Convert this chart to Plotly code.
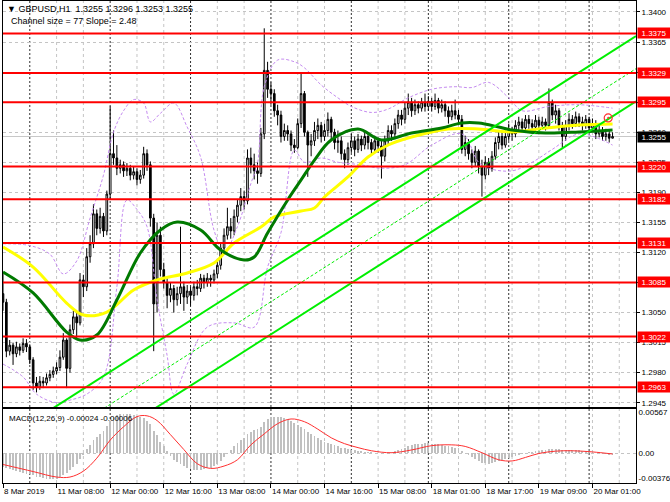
import plotly.graph_objects as go

# ---------------- data ----------------
bars = list(range(183))
first_open = 1.3072
close = [1.3062,1.3005,1.3012,1.3002,1.3010,1.3006,1.3014,1.3010,1.2995,1.2968,
         1.2963,1.2970,1.2968,1.2974,1.2978,1.2982,1.2986,1.2998,1.3018,1.2985,
         1.3030,1.3045,1.3038,1.3088,1.3080,1.3115,1.3130,1.3165,1.3148,1.3162,
         1.3145,1.3188,1.3235,1.3230,1.3218,1.3222,1.3215,1.3218,1.3210,1.3214,
         1.3205,1.3210,1.3235,1.3222,1.3160,1.3060,1.3140,1.3100,1.3085,1.3070,
         1.3078,1.3065,1.3072,1.3080,1.3068,1.3075,1.3070,1.3080,1.3078,1.3090,
         1.3085,1.3090,1.3088,1.3095,1.3105,1.3125,1.3140,1.3150,1.3145,1.3162,
         1.3175,1.3185,1.3180,1.3230,1.3222,1.3215,1.3212,1.3258,1.3332,1.3310,
         1.3305,1.3285,1.3280,1.3255,1.3262,1.3258,1.3245,1.3242,1.3270,1.3305,
         1.3260,1.3245,1.3250,1.3262,1.3268,1.3255,1.3262,1.3275,1.3260,1.3248,
         1.3250,1.3235,1.3228,1.3242,1.3250,1.3240,1.3252,1.3245,1.3255,1.3248,
         1.3240,1.3250,1.3244,1.3232,1.3250,1.3262,1.3258,1.3270,1.3280,1.3275,
         1.3288,1.3295,1.3285,1.3292,1.3288,1.3295,1.3290,1.3296,1.3290,1.3297,
         1.3288,1.3292,1.3285,1.3278,1.3285,1.3280,1.3275,1.3240,1.3248,1.3235,
         1.3225,1.3238,1.3220,1.3210,1.3225,1.3218,1.3232,1.3248,1.3255,1.3245,
         1.3255,1.3262,1.3258,1.3268,1.3272,1.3265,1.3275,1.3270,1.3266,1.3274,
         1.3268,1.3272,1.3268,1.3295,1.3280,1.3285,1.3268,1.3255,1.3268,1.3275,
         1.3270,1.3278,1.3272,1.3268,1.3275,1.3265,1.3270,1.3258,1.3262,1.3255,
         1.3258,1.3253,1.3255]
high = [1.3095,1.3066,1.3018,1.3015,1.3016,1.3014,1.3020,1.3019,1.3013,1.2998,
        1.2975,1.2976,1.2975,1.2979,1.2983,1.2987,1.2992,1.3006,1.3026,1.3020,
        1.3036,1.3052,1.3050,1.3096,1.3094,1.3125,1.3140,1.3176,1.3170,1.3172,
        1.3166,1.3192,1.3290,1.3262,1.3245,1.3228,1.3226,1.3224,1.3222,1.3220,
        1.3218,1.3216,1.3243,1.3240,1.3226,1.3165,1.3155,1.3150,1.3108,1.3090,
        1.3085,1.3082,1.3080,1.3150,1.3086,1.3082,1.3080,1.3086,1.3088,1.3095,
        1.3094,1.3096,1.3094,1.3100,1.3112,1.3130,1.3148,1.3172,1.3160,1.3170,
        1.3182,1.3195,1.3192,1.3240,1.3242,1.3235,1.3225,1.3265,1.3381,1.3342,
        1.3318,1.3310,1.3292,1.3285,1.3270,1.3268,1.3262,1.3252,1.3276,1.3330,
        1.3308,1.3262,1.3258,1.3272,1.3276,1.3272,1.3270,1.3283,1.3278,1.3264,
        1.3262,1.3255,1.3240,1.3248,1.3258,1.3255,1.3258,1.3256,1.3260,1.3258,
        1.3252,1.3256,1.3254,1.3250,1.3256,1.3268,1.3268,1.3276,1.3286,1.3286,
        1.3294,1.3305,1.3300,1.3298,1.3296,1.3300,1.3305,1.3302,1.3300,1.3305,
        1.3300,1.3298,1.3296,1.3290,1.3292,1.3298,1.3286,1.3280,1.3256,1.3252,
        1.3240,1.3244,1.3240,1.3228,1.3232,1.3230,1.3238,1.3254,1.3262,1.3260,
        1.3262,1.3270,1.3266,1.3274,1.3278,1.3276,1.3280,1.3280,1.3275,1.3280,
        1.3278,1.3278,1.3276,1.3311,1.3298,1.3292,1.3288,1.3272,1.3274,1.3282,
        1.3280,1.3284,1.3282,1.3278,1.3280,1.3278,1.3276,1.3274,1.3268,1.3266,
        1.3264,1.3262,1.3260]
low = [1.3052,1.2998,1.3000,1.2989,1.2998,1.3000,1.3003,1.3004,1.2990,1.2960,
       1.2957,1.2960,1.2962,1.2965,1.2970,1.2974,1.2978,1.2982,1.2995,1.2962,
       1.2980,1.3025,1.3020,1.3035,1.3068,1.3075,1.3108,1.3125,1.3140,1.3142,
       1.3138,1.3140,1.3182,1.3222,1.3210,1.3212,1.3208,1.3209,1.3204,1.3205,
       1.3198,1.3200,1.3206,1.3215,1.3150,1.3005,1.3050,1.3092,1.3078,1.3055,
       1.3062,1.3050,1.3058,1.3060,1.3052,1.3060,1.3058,1.3064,1.3070,1.3074,
       1.3078,1.3080,1.3080,1.3084,1.3090,1.3100,1.3118,1.3135,1.3136,1.3140,
       1.3155,1.3168,1.3170,1.3176,1.3212,1.3205,1.3200,1.3208,1.3252,1.3300,
       1.3292,1.3278,1.3268,1.3248,1.3250,1.3250,1.3238,1.3236,1.3240,1.3265,
       1.3255,1.3208,1.3232,1.3244,1.3252,1.3248,1.3250,1.3255,1.3252,1.3240,
       1.3236,1.3228,1.3218,1.3222,1.3236,1.3232,1.3236,1.3238,1.3240,1.3240,
       1.3234,1.3236,1.3236,1.3206,1.3226,1.3245,1.3250,1.3252,1.3264,1.3268,
       1.3270,1.3280,1.3278,1.3280,1.3282,1.3284,1.3284,1.3285,1.3284,1.3286,
       1.3282,1.3283,1.3278,1.3270,1.3274,1.3275,1.3268,1.3235,1.3232,1.3228,
       1.3218,1.3220,1.3212,1.3185,1.3205,1.3210,1.3214,1.3228,1.3240,1.3240,
       1.3242,1.3250,1.3250,1.3254,1.3262,1.3260,1.3262,1.3264,1.3260,1.3262,
       1.3262,1.3264,1.3262,1.3265,1.3274,1.3270,1.3262,1.3242,1.3250,1.3262,
       1.3264,1.3266,1.3266,1.3262,1.3264,1.3260,1.3262,1.3252,1.3254,1.3250,
       1.3250,1.3248,1.3253]
open_ = [first_open] + close[:-1]

# moving averages (read at sample bars)
ma_yellow_x = [0,9,19,24,31,39,46,55,63,69,77,81,89,93,96,103,109,115,122,133,142,152,162,172,182]
ma_yellow_y = [1.31263,1.31030,1.30611,1.30471,1.30506,1.30763,1.30879,1.30961,1.31077,1.31310,
               1.31496,1.31613,1.31683,1.31718,1.31846,1.32079,1.32311,1.32451,1.32544,1.32637,
               1.32637,1.32603,1.32649,1.32684,1.32696]
ma_green_x = [0,9,19,23,28,34,41,47,52,59,65,72,75,79,85,89,93,98,106,113,122,131,137,142,148,152,162,172,182]
ma_green_y = [1.30972,1.30728,1.30273,1.30180,1.30238,1.30646,1.31193,1.31461,1.31554,1.31461,
              1.31228,1.31112,1.31147,1.31426,1.31811,1.32044,1.32276,1.32509,1.32637,1.32509,
              1.32591,1.32649,1.32707,1.32707,1.32661,1.32626,1.32591,1.32603,1.32626]

# envelope bands
band_up_x = [0,8,14,18,22,26,30,33,36,39,42,44,47,51,55,59,63,66,70,74,76,78,82,87,90,95,100,104,110,115,121,128,135,140,145,151,155,163,172,182]
band_up_y = [1.3130,1.3128,1.3118,1.3095,1.3110,1.3160,1.3210,1.3260,1.3285,1.3298,1.3294,1.3272,
             1.3282,1.3294,1.3266,1.3231,1.3146,1.3120,1.3150,1.3200,1.3224,1.3313,1.3344,1.3342,
             1.3335,1.3315,1.3300,1.3290,1.3283,1.3287,1.3300,1.3310,1.3313,1.3312,1.3318,1.3300,
             1.3285,1.3290,1.3292,1.3288]
band_lo_x = [0,6,10,16,20,25,30,34,37,40,43,46,49,51,55,61,69,75,79,83,87,90,95,100,107,113,120,128,137,142,145,152,158,164,172,182]
band_lo_y = [1.2990,1.2975,1.2955,1.2945,1.2948,1.2955,1.2975,1.3080,1.3181,1.3170,1.3150,1.3065,
             1.3000,1.2955,1.2990,1.3033,1.3038,1.3033,1.3103,1.3143,1.3239,1.3225,1.3230,1.3225,
             1.3222,1.3218,1.3222,1.3245,1.3258,1.3225,1.3218,1.3215,1.3225,1.3240,1.3258,1.3245]

# regression channel (Channel size = 77, Slope = 2.48)
chan_x = [0, 189]
chan_upper = [1.29014, 1.33720]
chan_mid = [1.28634, 1.33340]
chan_lower = [1.28254, 1.32960]

# horizontal levels
levels = [1.3375, 1.3329, 1.3295, 1.3220, 1.3182, 1.3131, 1.3085, 1.3022, 1.2963]
last_price = 1.3255
alert_x = [180.7]
alert_y = [1.32766]

# MACD (units of 1e-5)
macd_hist_e5 = [-170,-185,-200,-215,-225,-235,-245,-255,-265,-280,-295,-305,-315,-322,-328,-330,-325,
                -305,-270,-250,-215,-170,-130,-70,-20,
                60,110,170,210,250,290,350,420,460,485,500,505,
                505,500,490,480,465,450,420,370,290,230,150,90,30,
                -30,-80,-110,-140,-160,-180,-195,-205,-210,-205,-200,-190,-180,-160,-130,-90,-50,-10,
                40,90,130,170,200,250,280,300,310,340,400,440,460,470,470,460,450,435,
                415,390,365,340,310,280,250,220,195,170,150,135,120,105,90,75,65,55,45,40,35,30,25,20,
                15,10,5,-5,0,
                10,20,35,50,60,75,95,105,115,120,125,128,128,125,122,118,112,100,90,82,75,65,
                30,10,-20,-50,-70,-95,-120,-125,-130,-125,-110,-95,-85,-70,-55,-45,-30,-15,-5,10,
                20,25,30,35,40,40,55,60,62,58,45,42,45,45,45,42,38,35,28,22,12,5,-5,-10,-18,-24]
macd_sig_x = [0,9,16,20,24,28,32,36,40,43,46,50,54,58,62,66,70,74,78,82,86,90,94,98,102,106,110,116,
              122,128,134,138,143,148,152,156,160,165,170,176,182]
macd_sig_e5 = [-140,-230,-300,-300,-225,-60,170,340,470,480,420,240,50,-130,-190,-160,-80,110,250,380,
               440,405,310,200,125,75,35,10,45,100,110,90,10,-80,-95,-50,0,30,35,20,-6]
macd_hist = [v / 1e5 for v in macd_hist_e5]
macd_sig = [v / 1e5 for v in macd_sig_e5]

# axes text
price_ticks = [1.2945,1.2980,1.3015,1.3050,1.3085,1.3120,1.3155,1.3190,1.3225,1.3260,1.3295,1.3330,1.3365,1.3400]
time_tick_idx = [0,16,32,48,64,80,96,112,128,144,160,176]
time_tick_text = ["8 Mar 2019","11 Mar 08:00","12 Mar 00:00","12 Mar 16:00","13 Mar 08:00",
                  "14 Mar 00:00","14 Mar 16:00","15 Mar 08:00","18 Mar 01:00","18 Mar 17:00",
                  "19 Mar 09:00","20 Mar 01:00"]
grid_idx = list(range(16, 189, 8))
day_sep_idx = [8, 32, 56, 80, 104, 127, 151, 175]

FONT = "Liberation Sans, DejaVu Sans, sans-serif"
FS = 8

fig = go.Figure()

fig.add_trace(go.Candlestick(
    x=bars, open=open_, high=high, low=low, close=close,
    increasing=dict(line=dict(color="black", width=1), fillcolor="white"),
    decreasing=dict(line=dict(color="black", width=1), fillcolor="black"),
    whiskerwidth=0, xaxis="x", yaxis="y", showlegend=False, hoverinfo="skip"))

for bx, by in ((band_up_x, band_up_y), (band_lo_x, band_lo_y)):
    fig.add_trace(go.Scatter(x=bx, y=by, mode="lines", line=dict(color="#c58cf0", width=1, dash="3px,2px", shape="spline"),
                             xaxis="x", yaxis="y", showlegend=False, hoverinfo="skip"))

fig.add_trace(go.Scatter(x=ma_yellow_x, y=ma_yellow_y, mode="lines",
                         line=dict(color="#ffff00", width=3, shape="spline"), xaxis="x", yaxis="y",
                         showlegend=False, hoverinfo="skip"))
fig.add_trace(go.Scatter(x=ma_green_x, y=ma_green_y, mode="lines",
                         line=dict(color="#007a00", width=3, shape="spline"), xaxis="x", yaxis="y",
                         showlegend=False, hoverinfo="skip"))

for cy, w, d in ((chan_upper, 2, "solid"), (chan_lower, 2, "solid"), (chan_mid, 1, "3px,2px")):
    fig.add_trace(go.Scatter(x=chan_x, y=cy, mode="lines", line=dict(color="#00ee00", width=w, dash=d),
                             xaxis="x", yaxis="y", showlegend=False, hoverinfo="skip"))

fig.add_trace(go.Scatter(x=alert_x, y=alert_y, mode="markers",
                         marker=dict(symbol="circle-open-dot", size=8, color="#ff3030", line=dict(width=1.2)),
                         xaxis="x", yaxis="y", showlegend=False, hoverinfo="skip"))

fig.add_trace(go.Bar(x=bars, y=macd_hist, marker=dict(color="#c0c0c0", line=dict(width=0)), width=0.55,
                     xaxis="x2", yaxis="y2", showlegend=False, hoverinfo="skip"))
fig.add_trace(go.Scatter(x=macd_sig_x, y=macd_sig, mode="lines", line=dict(color="#ff3030", width=1, shape="spline"),
                         xaxis="x2", yaxis="y2", showlegend=False, hoverinfo="skip"))

shapes = []
for gi in grid_idx:
    if gi not in day_sep_idx:
        shapes.append(dict(type="line", xref="x", yref="paper", x0=gi, x1=gi, y0=0, y1=1,
                           line=dict(color="#c4c4c4", width=1, dash="3px,3px"), layer="below"))
for si in day_sep_idx:
    shapes.append(dict(type="line", xref="x", yref="paper", x0=si, x1=si, y0=0, y1=1,
                       line=dict(color="#303030", width=1, dash="2px,2px"), layer="below"))
shapes.append(dict(type="line", xref="paper", yref="y", x0=0, x1=1, y0=last_price, y1=last_price,
                   line=dict(color="#c8c8c8", width=1), layer="below"))
for lv in levels:
    shapes.append(dict(type="line", xref="paper", yref="y", x0=0, x1=1, y0=lv, y1=lv,
                       line=dict(color="#ff0000", width=2), layer="above"))
shapes.append(dict(type="line", xref="paper", yref="y2", x0=0, x1=1, y0=0, y1=0,
                   line=dict(color="#c4c4c4", width=1, dash="3px,3px"), layer="below"))

annotations = []
for lv in levels:
    annotations.append(dict(xref="paper", yref="y", x=1, y=lv, xanchor="left", yanchor="middle",
                            text=f"{lv:.4f}", showarrow=False, bgcolor="#ff0000",
                            font=dict(family=FONT, size=FS, color="white"), borderpad=0, xshift=1,
                            width=32, height=10, align="center"))
annotations.append(dict(xref="paper", yref="y", x=1, y=last_price, xanchor="left", yanchor="middle",
                        text=f"{last_price:.4f}", showarrow=False, bgcolor="#000000",
                        font=dict(family=FONT, size=FS, color="white"), borderpad=0, xshift=1,
                        width=32, height=10, align="center"))
annotations.append(dict(xref="paper", yref="paper", x=0, y=1, xanchor="left", yanchor="top", xshift=2, yshift=-1,
                        text="▼ GBPUSD,H1  1.3255 1.3296 1.3253 1.3255", showarrow=False,
                        font=dict(family=FONT, size=FS + 1, color="black")))
annotations.append(dict(xref="paper", yref="paper", x=0, y=1, xanchor="left", yanchor="top", xshift=6, yshift=-13,
                        text="Channel size = 77 Slope = 2.48", showarrow=False,
                        font=dict(family=FONT, size=FS + 1, color="black")))
annotations.append(dict(xref="paper", yref="y2", x=0, y=0.00567, xanchor="left", yanchor="top", xshift=4, yshift=-3,
                        text="MACD(12,26,9) -0.00024 -0.00006", showarrow=False,
                        font=dict(family=FONT, size=FS, color="black")))

main_bottom = 76 / 482
macd_top = 74 / 482

fig.update_layout(
    width=670, height=502,
    margin=dict(l=3, r=34, t=1, b=19, autoexpand=False),
    paper_bgcolor="white", plot_bgcolor="white",
    font=dict(family=FONT, size=FS, color="black"),
    bargap=0,
    xaxis=dict(domain=[0, 1], anchor="y", range=[0, 189], showgrid=False, zeroline=False,
               showticklabels=False, ticks="", showline=True, linecolor="black", linewidth=1, mirror=True,
               rangeslider=dict(visible=False), fixedrange=True, automargin=False),
    yaxis=dict(domain=[main_bottom, 1], anchor="x", side="right", range=[1.2940, 1.34128],
               tickvals=price_ticks, ticktext=[f"{p:.4f}" for p in price_ticks],
               showgrid=True, gridcolor="#c4c4c4", griddash="3px,3px", gridwidth=1, zeroline=False,
               ticks="outside", ticklen=3, tickcolor="black", showline=True, linecolor="black",
               linewidth=1, mirror=True, tickfont=dict(size=FS), automargin=False),
    xaxis2=dict(domain=[0, 1], anchor="y2", matches="x", range=[0, 189], showgrid=False, zeroline=False,
                tickvals=time_tick_idx, ticktext=time_tick_text, ticks="outside", ticklen=4, tickangle=0,
                tickcolor="black", ticklabelposition="outside right", showline=True, linecolor="black",
                linewidth=1, mirror=True, tickfont=dict(size=FS), automargin=False),
    yaxis2=dict(domain=[0, macd_top], anchor="x2", side="right", range=[-0.00376, 0.00567],
                tickvals=[0.00522, 0.0, -0.00319], ticktext=["0.00567", "0.00", "-0.00376"],
                showgrid=False, zeroline=False, ticks="", showline=True, linecolor="black",
                linewidth=1, mirror=True, tickfont=dict(size=FS), automargin=False),
    shapes=shapes, annotations=annotations,
)

fig.write_html("out.html", config={"displayModeBar": False, "staticPlot": True},
               post_script="document.body.style.margin='0';document.body.style.padding='0';document.body.style.overflow='hidden';")
